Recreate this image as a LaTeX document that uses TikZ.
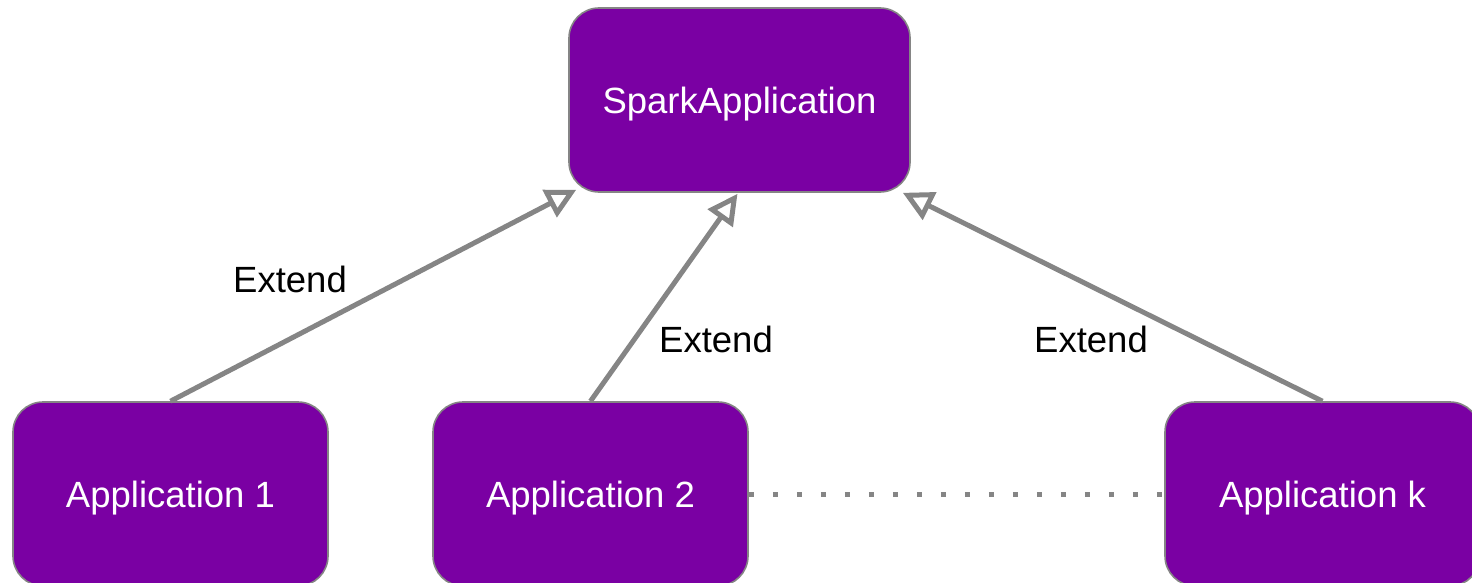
\documentclass[tikz,border=0pt]{standalone}
\usepackage{fontspec}
\setmainfont{Liberation Sans}
\usetikzlibrary{arrows.meta,calc}
\definecolor{boxfill}{HTML}{7A00A3}
\definecolor{edge}{HTML}{858585}
\tikzset{
  appbox/.style={draw=edge, line width=1.6pt, fill=boxfill, rounded corners=30pt,
    minimum width=315pt, minimum height=184pt, text=white, inner sep=0pt,
    text depth=0pt, font=\fontsize{36.5}{40}\selectfont},
  extends/.style={draw=edge, line width=5pt,
    -{Triangle[open, length=30pt, width=30pt, line width=5pt]}},
  lbl/.style={font=\fontsize{36.5}{40}\selectfont, inner sep=0pt},
  dots/.style={draw=edge, line width=5pt, dash pattern=on 5pt off 19pt}
}
\begin{document}
\begin{tikzpicture}[x=1pt, y=-1pt]
  \useasboundingbox (0,0) rectangle (1472,583);
  % boxes
  \node[appbox, minimum width=341pt] (sp) at (739.5,100) {SparkApplication};
  \node[appbox] (a1) at (170.5,494) {Application 1};
  \node[appbox] (a2) at (590.5,494) {Application 2};
  \node[appbox] (ak) at (1322.5,494) {Application k};
  % inheritance arrows
  \draw[extends] (a1.north) -- ($(sp.south west)+(8,-3)$);
  \draw[extends] (a2.north) -- ($(sp.south)+(-2,1)$);
  \draw[extends] (ak.north) -- ($(sp.south east)+(-8,0)$);
  % labels
  \node[lbl] (e1) at (290,279) {Extend};
  \node[lbl] (e2) at (716,339) {Extend};
  \node[lbl] (e3) at (1091,339) {Extend};
  % continuation between the applications
  \draw[dots] (a2.east) -- (ak.west);
\end{tikzpicture}
\end{document}
